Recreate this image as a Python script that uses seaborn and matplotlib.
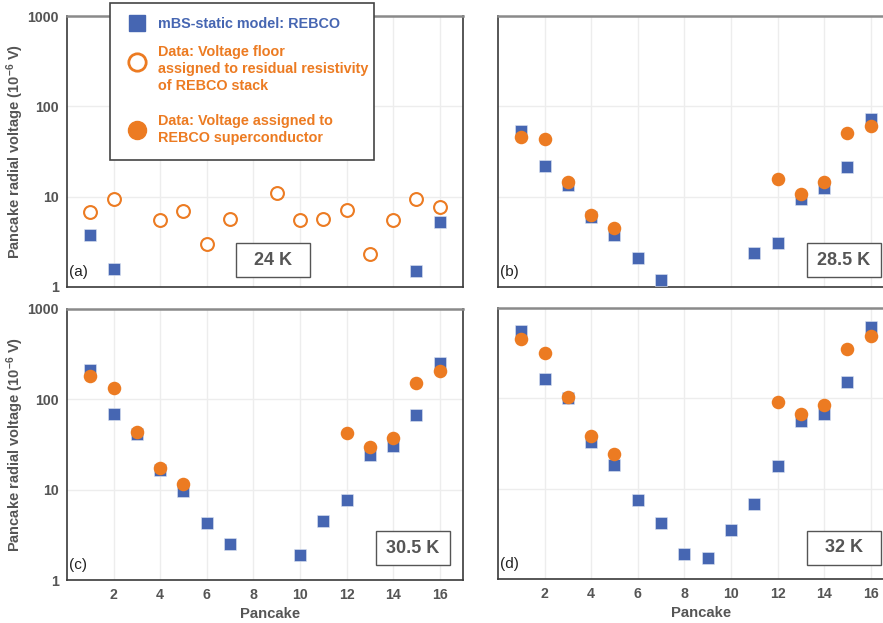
import numpy as np
import matplotlib
matplotlib.use("Agg")
import matplotlib.pyplot as plt
from matplotlib.patches import Rectangle
from matplotlib.lines import Line2D
import seaborn as sns

nan = np.nan
pancake = np.arange(1, 17)

# (a) 24 K
model_24 = [3.8, 1.6, nan, nan, nan, nan, nan, nan, nan, nan, nan, nan, nan, nan, 1.5, 5.2]
floor_24 = [6.8, 9.4, nan, 5.5, 6.9, 3.0, 5.7, nan, 10.9, 5.5, 5.7, 7.1, 2.3, 5.5, 9.5, 7.6]

# (b) 28.5 K
model_285 = [53.8, 21.9, 13.4, 5.9, 3.8, 2.1, 1.2, nan, nan, nan, 2.36, 3.07, 9.4, 12.4, 21.3, 72.5]
sc_285 = [46, 43.5, 14.4, 6.3, 4.5, nan, nan, nan, nan, nan, nan, 15.6, 10.6, 14.4, 50.4, 60.7]

# (c) 30.5 K
model_305 = [212, 69.5, 41.4, 16.4, 9.75, 4.24, 2.52, nan, nan, 1.89, 4.54, 7.7, 24.2, 30.2, 67, 251]
sc_305 = [183, 132, 44, 17.4, 11.6, nan, nan, nan, nan, nan, nan, 42, 29.9, 37.7, 152, 208]

# (d) 32 K
model_32 = [554, 165, 101.5, 32.9, 18.3, 7.4, 4.22, 1.89, 1.72, 3.5, 6.73, 17.7, 55.7, 66.5, 152.6, 618]
sc_32 = [456, 314, 102.6, 38, 24.5, nan, nan, nan, nan, nan, nan, 90.3, 67.6, 84.3, 353, 488]

temps = ["24 K", "28.5 K", "30.5 K", "32 K"]
panel_tags = ["(a)", "(b)", "(c)", "(d)"]
x_ticks = [2, 4, 6, 8, 10, 12, 14, 16]
y_ticks = [1, 10, 100, 1000]
y_ticklabels = ["1", "10", "100", "1000"]

legend_labels = [
    "mBS-static model: REBCO",
    "Data: Voltage floor\nassigned to residual resistivity\nof REBCO stack",
    "Data: Voltage assigned to\nREBCO superconductor",
]

BLUE = "#4666B2"
ORANGE = "#EC7B22"
GRAY = "#555555"
GRID = "#EDEDED"

sns.set_style("white")
plt.rcParams["font.family"] = ["Liberation Sans", "DejaVu Sans"]
plt.rcParams["mathtext.fontset"] = "custom"
plt.rcParams["mathtext.rm"] = "Liberation Sans:bold"
plt.rcParams["mathtext.default"] = "rm"

W, H = 883, 623
fig = plt.figure(figsize=(W / 100, H / 100), dpi=100)


def axes_px(left, top, right, bottom):
    return fig.add_axes([left / W, 1 - bottom / H, (right - left) / W, (bottom - top) / H])


def fx(px):
    return px / W


def fy(py):
    return 1 - py / H


axs = [
    axes_px(67, 16, 463, 287),
    axes_px(498, 16, 894, 287),
    axes_px(67, 309, 463, 580),
    axes_px(498, 308, 894, 579),
]

S_SQ = 66
S_DOT = 95

panels = [
    (model_24, floor_24, True),
    (model_285, sc_285, False),
    (model_305, sc_305, False),
    (model_32, sc_32, False),
]

box_pos = [
    (0.427, 0.037),
    (0.780, 0.037),
    (0.780, 0.055),
    (0.780, 0.052),
]

for i, (ax, (model, data, is_floor)) in enumerate(zip(axs, panels)):
    ax.set_yscale("log")
    ax.set_xlim(0, 17)
    ax.set_ylim(1, 1000)
    ax.set_xticks(x_ticks)
    ax.set_yticks(y_ticks)
    ax.grid(True, which="major", color=GRID, linewidth=1.0, zorder=0)
    ax.set_axisbelow(True)

    sns.scatterplot(x=pancake, y=model, ax=ax, marker="s", s=S_SQ, color=BLUE,
                    linewidth=0.4, edgecolor="#dfe5f2", zorder=3, legend=False)
    if is_floor:
        sns.scatterplot(x=pancake, y=data, ax=ax, marker="o", s=S_DOT * 0.9,
                        facecolor="white", edgecolor=ORANGE, linewidth=1.5,
                        zorder=4, legend=False)
    else:
        sns.scatterplot(x=pancake, y=data, ax=ax, marker="o", s=S_DOT, color=ORANGE,
                        linewidth=0, zorder=4, legend=False)

    for side in ["left", "bottom", "right"]:
        ax.spines[side].set_color("#3a3a3a")
        ax.spines[side].set_linewidth(1.2)
    ax.spines["top"].set_color("#8a8a8a")
    ax.spines["top"].set_linewidth(1.8)

    ax.tick_params(axis="x", which="both", length=0, pad=6,
                   labelsize=10.2, labelcolor=GRAY)
    ax.tick_params(axis="y", which="major", direction="in", length=6, width=0.8,
                   color="#333333", labelsize=10.2, labelcolor=GRAY, pad=6)
    ax.tick_params(axis="y", which="minor", direction="in", length=3, width=0.8,
                   color="#333333")
    ax.set_yticklabels(y_ticklabels)
    for lab in ax.get_xticklabels() + ax.get_yticklabels():
        lab.set_fontweight("bold")

    if i in (0, 1):
        ax.tick_params(axis="x", labelbottom=False)
    else:
        ax.set_xlabel("Pancake", fontsize=10.7, fontweight="bold", color=GRAY)
        ax.xaxis.set_label_coords(0.5 + 5 / 396, -27 / 271)
    if i in (1, 3):
        ax.tick_params(axis="y", labelleft=False)
    else:
        ax.set_ylabel(r"Pancake radial voltage (10$^{-6}$ V)", fontsize=10.5,
                      fontweight="bold", color=GRAY)
        ax.yaxis.set_label_coords(-41 / 396, 0.5)

    # panel tag
    ax.text(0.006, 0.055, panel_tags[i], transform=ax.transAxes, fontsize=11,
            color="#222222", ha="left", va="center", zorder=6)

    # temperature box
    bx, by = box_pos[i]
    bw, bh = 0.187, 0.125
    ax.add_patch(Rectangle((bx, by), bw, bh, transform=ax.transAxes, facecolor="white",
                           edgecolor="#555555", linewidth=1.0, zorder=5))
    ax.text(bx + bw / 2, by + bh / 2, temps[i], transform=ax.transAxes, fontsize=13,
            fontweight="bold", color=GRAY, ha="center", va="center", zorder=6)

# legend box over panel (a)
fig.add_artist(Rectangle((fx(110), fy(160)), fx(374) - fx(110), fy(3) - fy(160),
                         transform=fig.transFigure, facecolor="white",
                         edgecolor="#444444", linewidth=1.2, zorder=10))
legend_markers = [
    dict(marker="s", markersize=11, markerfacecolor=BLUE, markeredgecolor=BLUE),
    dict(marker="o", markersize=12.5, markerfacecolor="white", markeredgecolor=ORANGE,
         markeredgewidth=2),
    dict(marker="o", markersize=13, markerfacecolor=ORANGE, markeredgecolor=ORANGE),
]
marker_y = [23, 62, 130]
text_top = [23, 51, 120]
label_colors = [BLUE, ORANGE, ORANGE]
for mk, my, ty, lab, col in zip(legend_markers, marker_y, text_top, legend_labels, label_colors):
    fig.add_artist(Line2D([fx(137)], [fy(my)], linestyle="none",
                          transform=fig.transFigure, zorder=11, **mk))
    fig.text(fx(158), fy(ty - 6), lab, ha="left", va="top", fontsize=10.4,
             fontweight="bold", color=col, linespacing=1.25, zorder=11)

fig.savefig("out.png", dpi=100)
